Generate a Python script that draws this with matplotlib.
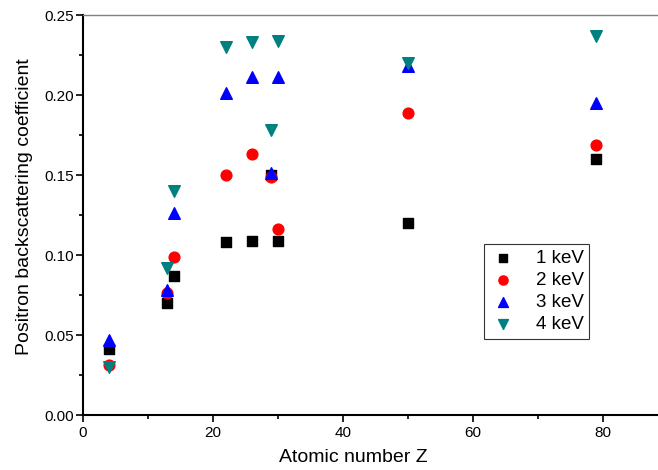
import numpy as np
import matplotlib
matplotlib.use('Agg')
import matplotlib.pyplot as plt
from matplotlib.ticker import MultipleLocator

plt.rcParams['font.family'] = ['Liberation Sans', 'DejaVu Sans']

# atomic numbers of the targets
Z = [4, 13, 14, 22, 26, 29, 30, 50, 79]

# backscattering coefficient per beam energy
eta_1keV = [0.041, 0.070, 0.087, 0.108, 0.109, 0.150, 0.109, 0.120, 0.160]
eta_2keV = [0.031, 0.076, 0.099, 0.150, 0.163, 0.149, 0.116, 0.189, 0.169]
eta_3keV = [0.047, 0.078, 0.126, 0.201, 0.211, 0.151, 0.211, 0.218, 0.195]
eta_4keV = [0.030, 0.092, 0.140, 0.230, 0.233, 0.178, 0.234, 0.220, 0.237]

labels = ['1 keV', '2 keV', '3 keV', '4 keV']

fig = plt.figure(figsize=(6.58, 4.70), dpi=100)
ax = fig.add_axes([0.1255, 0.117, 0.8745, 0.851])

ax.scatter(Z, eta_1keV, marker='s', s=48, color='black', label=labels[0], zorder=3)
ax.scatter(Z, eta_2keV, marker='o', s=60, color='red', label=labels[1], zorder=3)
ax.scatter(Z, eta_3keV, marker='^', s=70, color='blue', label=labels[2], zorder=3)
ax.scatter(Z, eta_4keV, marker='v', s=70, color='#008080', label=labels[3], zorder=3)

ax.set_xlim(0, 88.5)
ax.set_ylim(0, 0.25)
ax.xaxis.set_major_locator(MultipleLocator(20))
ax.xaxis.set_minor_locator(MultipleLocator(10))
ax.yaxis.set_major_locator(MultipleLocator(0.05))
ax.yaxis.set_minor_locator(MultipleLocator(0.025))
ax.yaxis.set_major_formatter(matplotlib.ticker.FormatStrFormatter('%.2f'))

ax.tick_params(which='major', direction='out', length=5, width=1.2, labelsize=11)
ax.tick_params(which='minor', direction='out', length=3, width=1.2)
ax.tick_params(axis='x', which='major', pad=3)
ax.tick_params(axis='y', which='major', pad=1.5)
ax.tick_params(top=False, right=False)

ax.spines['left'].set_linewidth(1.5)
ax.spines['bottom'].set_linewidth(1.5)
ax.spines['top'].set_color('#808080')
ax.spines['top'].set_linewidth(1.0)
ax.spines['right'].set_visible(False)

ax.set_xlabel('Atomic number Z', fontsize=14)
ax.set_ylabel('Positron backscattering coefficient', fontsize=14)
ax.xaxis.set_label_coords(0.47, -0.085)
ax.yaxis.set_label_coords(-0.086, 0.52)

leg = ax.legend(loc='upper left', bbox_to_anchor=(0.698, 0.4275), fontsize=13.5,
                frameon=True, fancybox=False, edgecolor='black',
                handletextpad=1.0, borderpad=0.3, labelspacing=0.27,
                handlelength=1.45, borderaxespad=0, markerscale=0.85)
leg.get_frame().set_linewidth(0.8)

fig.savefig('out.png', dpi=100)
